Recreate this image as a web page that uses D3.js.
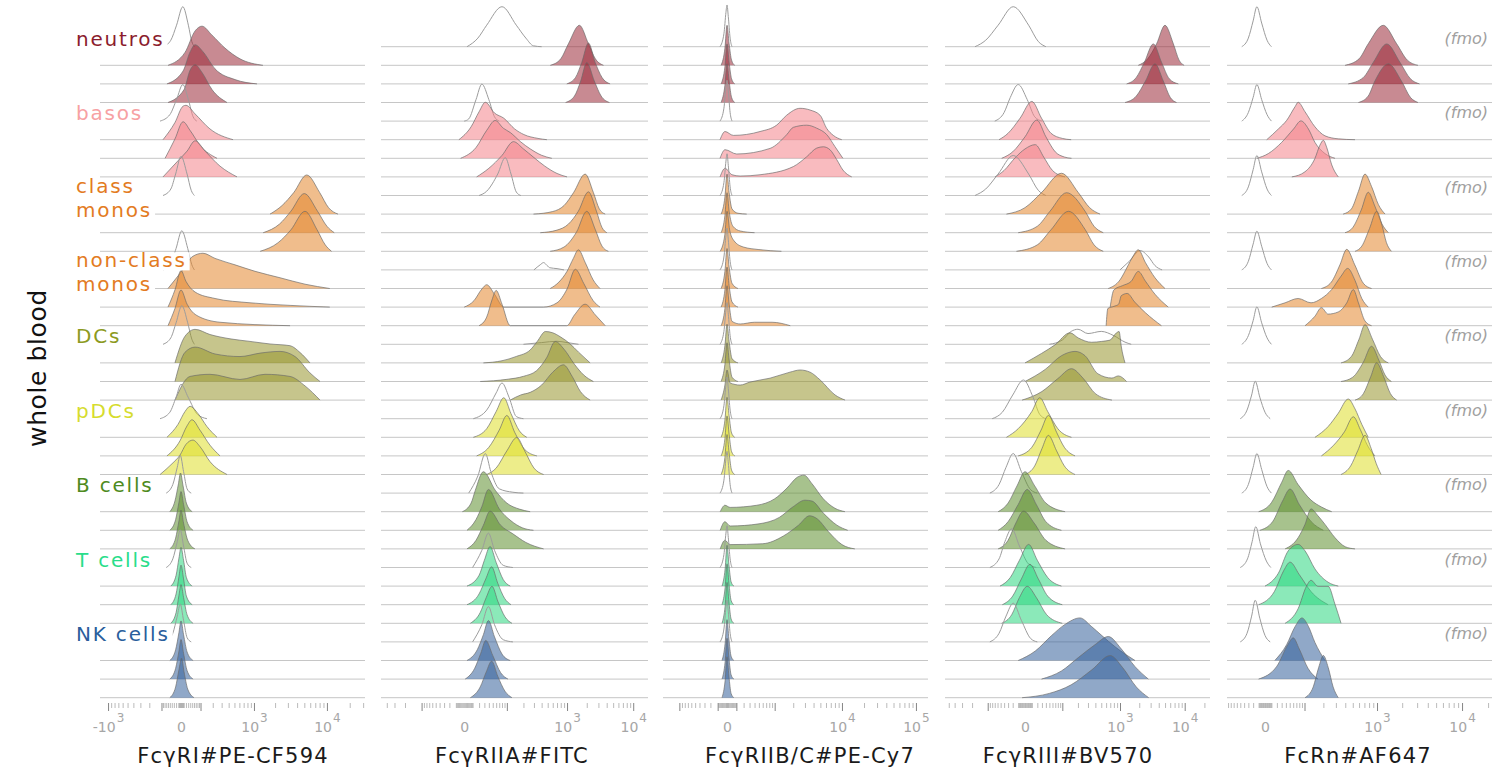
<!DOCTYPE html>
<html><head><meta charset="utf-8">
<script src="https://cdn.jsdelivr.net/npm/d3@7"></script>
<style>body{margin:0;background:#fff}svg{display:block}</style>
</head><body>
<svg id="chart" width="1511" height="776"></svg>
<script>
// ---------------- DATA ----------------
const cellTypes = ["neutros","basos","class monos","non-class monos","DCs","pDCs","B cells","T cells","NK cells"];
const cellLabelLines = [["neutros"],["basos"],["class","monos"],["non-class","monos"],["DCs"],["pDCs"],["B cells"],["T cells"],["NK cells"]];
const sampleRows = ["fmo","stain 1","stain 2","stain 3"];
const markers = ["FcγRI#PE-CF594","FcγRIIA#FITC","FcγRIIB/C#PE-Cy7","FcγRIII#BV570","FcRn#AF647"];
const tickValues = [[-1000,0,1000,10000],[0,1000,10000],[0,10000,100000],[0,1000,10000],[0,1000,10000]];
const tickLabels = [["-10^3","0","10^3","10^4"],["0","10^3","10^4"],["0","10^4","10^5"],["0","10^3","10^4"],["0","10^3","10^4"]];
const yTitle = "whole blood";
const fmoLabel = "(fmo)";

// density knots: [fluorescence value, relative density] per cell type x [fmo, stain1, stain2, stain3]
const fcgr1Curves = [
 [[[-90,0],[-45,0.15],[-18,0.5],[7,0.93],[31,0.5],[48,0.12],[62,0]],
  [[-60,0],[16,0.3],[66,0.8],[110,0.91],[193,0.7],[345,0.4],[614,0.15],[1350,0]],
  [[-66,0],[8,0.3],[40,0.75],[66,0.91],[117,0.75],[223,0.35],[511,0.1],[1109,0]],
  [[-60,0],[12,0.3],[39,0.75],[66,0.88],[110,0.7],[193,0.3],[375,0]]],
 [[[-110,0],[-50,0.15],[-18,0.5],[7,0.85],[31,0.5],[55,0.1],[76,0]],
  [[-90,0],[-25,0.4],[8,0.78],[20,0.8],[66,0.6],[174,0.25],[474,0]],
  [[-77,0],[-25,0.45],[8,0.85],[39,0.65],[97,0.3],[245,0]],
  [[-90,0],[-16,0.35],[25,0.6],[66,0.84],[133,0.6],[280,0.25],[550,0]]],
 [[[-90,0],[-45,0.15],[-22,0.5],[0,0.91],[25,0.5],[45,0.12],[62,0]],
  [[1700,0],[2500,0.2],[3600,0.5],[5390,0.91],[8020,0.5],[10500,0.15],[14000,0]],
  [[1360,0],[2300,0.2],[3300,0.5],[5000,0.91],[7500,0.5],[10000,0.15],[12500,0]],
  [[1230,0],[2200,0.2],[3300,0.5],[5100,0.93],[7400,0.5],[9500,0.15],[11500,0]]],
 [[[-90,0],[-45,0.15],[-20,0.5],[3,0.91],[28,0.5],[48,0.12],[62,0]],
  [[-60,0],[-4,0.35],[54,0.75],[117,0.82],[223,0.7],[511,0.55],[1036,0.4],[2340,0.25],[5110,0.1],[10900,0]],
  [[-60,0],[-25,0.4],[0,0.85],[20,0.6],[66,0.35],[223,0.2],[874,0.1],[3210,0.04],[10900,0]],
  [[-60,0],[-25,0.4],[0,0.83],[25,0.5],[71,0.25],[280,0.08],[3210,0]]],
 [[[-90,0],[-45,0.15],[-20,0.5],[3,0.9],[28,0.5],[48,0.12],[62,0]],
  [[-25,0],[16,0.62],[66,0.78],[174,0.66],[422,0.56],[874,0.5],[1700,0.44],[3210,0.4],[4390,0.24],[5950,0]],
  [[-25,0],[16,0.68],[66,0.8],[223,0.64],[614,0.58],[1230,0.66],[2340,0.7],[3750,0.58],[5950,0.2],[8100,0]],
  [[-25,0],[39,0.55],[174,0.6],[614,0.48],[1444,0.6],[3210,0.55],[5110,0.33],[8100,0]]],
 [[[-110,0],[-50,0.15],[-20,0.5],[0,0.8],[30,0.5],[80,0.1],[148,0]],
  [[-66,0],[-12,0.3],[16,0.6],[39,0.72],[84,0.55],[148,0.25],[245,0]],
  [[-66,0],[-4,0.35],[25,0.7],[49,0.84],[96,0.6],[174,0.25],[280,0]],
  [[-110,0],[-39,0.25],[-4,0.45],[20,0.7],[54,0.8],[96,0.65],[174,0.3],[375,0]]],
 [[[-70,0],[-35,0.2],[-15,0.6],[-3,0.88],[10,0.5],[25,0.1],[45,0]],
  [[-50,0],[-25,0.25],[-10,0.65],[-2,0.9],[8,0.6],[22,0.2],[50,0]],
  [[-50,0],[-22,0.25],[-8,0.65],[0,0.9],[10,0.6],[25,0.2],[55,0]],
  [[-50,0],[-22,0.25],[-8,0.65],[0,0.9],[10,0.6],[28,0.2],[65,0]]],
 [[[-70,0],[-35,0.2],[-15,0.6],[-3,0.88],[10,0.5],[25,0.1],[45,0]],
  [[-45,0],[-20,0.25],[-8,0.65],[0,0.9],[10,0.6],[22,0.2],[50,0]],
  [[-45,0],[-20,0.25],[-8,0.65],[0,0.92],[10,0.6],[22,0.2],[50,0]],
  [[-45,0],[-20,0.25],[-8,0.65],[0,0.9],[10,0.6],[25,0.2],[55,0]]],
 [[[-70,0],[-35,0.2],[-15,0.6],[-3,0.88],[10,0.5],[25,0.1],[45,0]],
  [[-50,0],[-22,0.25],[-8,0.65],[0,0.92],[10,0.6],[25,0.2],[55,0]],
  [[-50,0],[-22,0.25],[-8,0.65],[0,0.92],[10,0.6],[25,0.2],[55,0]],
  [[-50,0],[-22,0.25],[-8,0.65],[2,0.92],[12,0.6],[28,0.2],[60,0]]]
];

const fcgr2aCurves = [
 [[[3,0],[18,0.2],[35,0.5],[80,0.93],[150,0.5],[220,0.2],[295,0.02],[400,0]],
  [[550,0],[800,0.15],[1050,0.5],[1545,0.93],[2120,0.5],[2700,0.15],[3580,0]],
  [[990,0],[1350,0.15],[1680,0.5],[2120,0.95],[2680,0.5],[3400,0.15],[4500,0]],
  [[950,0],[1300,0.15],[1620,0.5],[2000,0.93],[2600,0.5],[3300,0.15],[4400,0]]],
 [[[0,0],[5,0.05],[15,0.5],[25,0.86],[40,0.5],[55,0.1],[70,0]],
  [[-6,0],[8,0.3],[20,0.65],[32,0.87],[55,0.62],[87,0.5],[140,0.25],[203,0.12],[350,0.03],[485,0]],
  [[-4,0],[15,0.25],[35,0.65],[57,0.88],[85,0.7],[116,0.6],[180,0.38],[260,0.22],[400,0.07],[580,0]],
  [[16,0],[40,0.2],[80,0.5],[133,0.82],[200,0.65],[300,0.45],[450,0.25],[700,0.08],[1000,0]]],
 [[[20,0],[35,0.1],[65,0.5],[93,0.88],[120,0.5],[150,0.08],[180,0]],
  [[295,0],[600,0.06],[900,0.2],[1260,0.5],[1890,0.93],[2520,0.5],[3100,0.12],[3800,0]],
  [[380,0],[700,0.06],[1050,0.2],[1490,0.5],[2120,0.95],[2800,0.5],[3400,0.12],[4020,0]],
  [[547,0],[900,0.1],[1400,0.45],[2000,0.93],[2700,0.5],[3400,0.12],[4250,0]]],
 [[[300,0],[380,0.12],[430,0.17],[490,0.1],[540,0.05],[700,0.03],[900,0]],
  [[547,0],[750,0.15],[1000,0.4],[1250,0.7],[1490,0.9],[1900,0.6],[2500,0.2],[3170,0]],
  [[0,0],[12,0.15],[25,0.42],[35,0.52],[55,0.3],[87,0],[430,0],[700,0.1],[1000,0.42],[1340,0.88],[1800,0.55],[2500,0.15],[3170,0]],
  [[20,0],[35,0.2],[48,0.6],[60,0.82],[80,0.5],[116,0],[990,0],[1300,0.25],[1890,0.5],[2700,0.25],[3800,0]]],
 [[[200,0],[400,0.04],[700,0.07],[1000,0.04],[1500,0]],
  [[28,0],[80,0.05],[150,0.15],[260,0.3],[340,0.5],[460,0.73],[600,0.7],[800,0.6],[1100,0.45],[1500,0.25],[2250,0]],
  [[22,0],[100,0.05],[200,0.12],[330,0.25],[480,0.55],[657,0.93],[900,0.75],[1300,0.4],[1800,0.15],[2520,0]],
  [[116,0],[180,0.12],[260,0.18],[400,0.35],[600,0.65],[880,0.82],[1200,0.55],[1600,0.2],[2250,0]]],
 [[[11,0],[35,0.2],[60,0.6],[80,0.83],[110,0.5],[150,0.05],[200,0]],
  [[11,0],[35,0.2],[60,0.6],[87,0.92],[120,0.55],[170,0.15],[228,0]],
  [[16,0],[40,0.2],[70,0.6],[100,0.94],[140,0.55],[210,0.15],[335,0]],
  [[35,0],[60,0.15],[100,0.55],[153,0.86],[210,0.55],[300,0.15],[430,0]]],
 [[[5,0],[18,0.4],[32,0.92],[45,0.5],[70,0.1],[130,0.02],[200,0]],
  [[-2,0],[8,0.2],[14,0.5],[28,0.93],[57,0.5],[100,0.2],[170,0.06],[260,0]],
  [[3,0],[15,0.25],[25,0.55],[39,0.95],[70,0.5],[120,0.22],[190,0.06],[295,0]],
  [[3,0],[15,0.2],[28,0.55],[43,0.88],[75,0.55],[130,0.35],[220,0.15],[430,0]]],
 [[[10,0],[25,0.4],[39,0.8],[55,0.4],[85,0.05],[130,0]],
  [[3,0],[20,0.25],[30,0.6],[43,0.92],[60,0.55],[85,0.15],[116,0]],
  [[3,0],[20,0.25],[33,0.6],[47,0.88],[65,0.5],[90,0.15],[120,0]],
  [[7,0],[22,0.25],[34,0.6],[48,0.86],[66,0.5],[92,0.15],[125,0]]],
 [[[10,0],[25,0.4],[39,0.82],[55,0.4],[85,0.05],[130,0]],
  [[3,0],[17,0.25],[28,0.6],[39,0.93],[55,0.55],[80,0.15],[116,0]],
  [[1,0],[13,0.25],[23,0.6],[33,0.9],[50,0.55],[75,0.15],[105,0]],
  [[7,0],[22,0.25],[34,0.6],[47,0.85],[65,0.5],[92,0.15],[125,0]]]
];

const fcgr2bCurves = [
 [[[-72,0],[-30,0.3],[-10,0.8],[0,0.97],[12,0.7],[30,0.2],[50,0]],
  [[-60,0],[-20,0.4],[0,0.93],[20,0.5],[45,0.12],[80,0]],
  [[-60,0],[-20,0.4],[0,0.93],[20,0.5],[45,0.12],[80,0]],
  [[-60,0],[-20,0.4],[0,0.9],[20,0.5],[45,0.12],[80,0]]],
 [[[-72,0],[-30,0.3],[-10,0.8],[0,0.95],[12,0.7],[30,0.2],[50,0]],
  [[-72,0],[-19,0.19],[64,0.1],[528,0.19],[1084,0.34],[1583,0.57],[2535,0.73],[3557,0.69],[4950,0.57],[6150,0.26],[7600,0.1],[9930,0]],
  [[-72,0],[-19,0.2],[104,0.1],[827,0.23],[1583,0.55],[2007,0.72],[3190,0.77],[4440,0.7],[6150,0.55],[8020,0.27],[10300,0]],
  [[-72,0],[-19,0.2],[50,0.05],[149,0.02],[528,0.05],[2007,0.24],[3190,0.47],[4440,0.67],[5510,0.7],[6840,0.63],[8480,0.4],[10300,0.16],[13600,0]]],
 [[[-72,0],[-30,0.3],[-10,0.8],[0,0.97],[12,0.7],[30,0.2],[50,0]],
  [[-60,0],[-20,0.4],[0,0.93],[20,0.5],[50,0.12],[120,0.02],[250,0]],
  [[-60,0],[-20,0.4],[0,0.93],[20,0.5],[60,0.15],[150,0.04],[400,0]],
  [[-70,0],[-20,0.4],[0,0.93],[25,0.5],[70,0.25],[195,0.1],[500,0.04],[1300,0]]],
 [[[-72,0],[-30,0.3],[-10,0.8],[0,0.97],[12,0.7],[30,0.2],[50,0]],
  [[-60,0],[-20,0.4],[0,0.93],[20,0.5],[50,0.12],[120,0]],
  [[-60,0],[-20,0.4],[0,0.93],[20,0.5],[50,0.12],[120,0]],
  [[-60,0],[-20,0.4],[0,0.93],[20,0.5],[50,0.1],[150,0.04],[400,0.08],[900,0.08],[1800,0]]],
 [[[-72,0],[-30,0.3],[-10,0.8],[0,0.97],[12,0.7],[30,0.2],[50,0]],
  [[-60,0],[-20,0.4],[0,0.9],[20,0.5],[50,0.1],[120,0]],
  [[-60,0],[-20,0.4],[0,0.9],[20,0.5],[50,0.1],[120,0]],
  [[-60,0],[-20,0.35],[0,0.7],[29,0.4],[149,0.35],[309,0.42],[827,0.51],[1784,0.65],[2535,0.7],[3557,0.65],[4950,0.47],[8020,0.12],[11030,0]]],
 [[[-72,0],[-30,0.3],[-10,0.8],[0,0.97],[12,0.7],[30,0.2],[50,0]],
  [[-60,0],[-20,0.4],[0,0.93],[20,0.5],[45,0.1],[80,0]],
  [[-60,0],[-20,0.4],[0,0.93],[20,0.5],[45,0.1],[80,0]],
  [[-60,0],[-20,0.4],[0,0.93],[20,0.5],[45,0.1],[80,0]]],
 [[[-72,0],[-30,0.3],[-10,0.8],[0,0.97],[12,0.7],[30,0.2],[50,0]],
  [[-70,0],[-20,0.15],[30,0.1],[450,0.15],[1000,0.3],[1600,0.55],[2300,0.8],[2900,0.85],[3800,0.65],[5500,0.3],[8000,0.08],[11000,0]],
  [[-70,0],[-20,0.2],[30,0.1],[500,0.15],[1200,0.3],[2000,0.55],[3000,0.7],[3800,0.68],[5500,0.4],[8500,0.12],[12000,0]],
  [[-70,0],[-20,0.2],[30,0.1],[600,0.12],[1400,0.3],[2400,0.55],[3500,0.77],[4500,0.7],[6500,0.4],[10000,0.1],[15000,0]]],
 [[[-72,0],[-30,0.3],[-10,0.8],[0,0.97],[12,0.7],[30,0.2],[50,0]],
  [[-50,0],[-18,0.4],[0,0.95],[18,0.5],[40,0.1],[70,0]],
  [[-50,0],[-18,0.4],[0,0.95],[18,0.5],[40,0.1],[70,0]],
  [[-50,0],[-18,0.4],[0,0.95],[18,0.5],[40,0.1],[70,0]]],
 [[[-72,0],[-30,0.3],[-10,0.8],[0,0.97],[12,0.7],[30,0.2],[50,0]],
  [[-50,0],[-18,0.4],[0,0.95],[18,0.5],[40,0.1],[70,0]],
  [[-50,0],[-18,0.4],[0,0.95],[18,0.5],[40,0.1],[70,0]],
  [[-50,0],[-18,0.4],[0,0.95],[18,0.5],[40,0.1],[70,0]]]
];

const fcgr3Curves = [
 [[[-177,0],[-110,0.15],[-58,0.5],[-19,0.93],[5,0.5],[22,0.12],[40,0]],
  [[1930,0],[2700,0.15],[3710,0.5],[4990,0.93],[6700,0.5],[8200,0.12],[9800,0]],
  [[1270,0],[1800,0.15],[2400,0.5],[3300,0.93],[4420,0.5],[5800,0.12],[8000,0]],
  [[1200,0],[1800,0.15],[2500,0.5],[3500,0.9],[4700,0.5],[6000,0.12],[7500,0]]],
 [[[-70,0],[-40,0.2],[-25,0.55],[-10,0.85],[3,0.5],[15,0.1],[30,0]],
  [[-55,0],[-30,0.15],[-7,0.5],[10,0.89],[29,0.5],[55,0.15],[100,0.03],[150,0]],
  [[-47,0],[-20,0.15],[0,0.5],[19,0.89],[40,0.5],[70,0.15],[110,0.03],[152,0]],
  [[-69,0],[-40,0.15],[-15,0.45],[0,0.65],[16,0.75],[35,0.45],[60,0.15],[114,0]]],
 [[[-177,0],[-110,0.15],[-58,0.5],[-19,0.93],[5,0.5],[22,0.12],[40,0]],
  [[-34,0],[0,0.15],[29,0.5],[96,0.95],[203,0.5],[320,0.15],[478,0]],
  [[-10,0],[20,0.15],[52,0.5],[122,0.93],[267,0.5],[380,0.15],[540,0]],
  [[-13,0],[20,0.15],[55,0.5],[133,0.93],[270,0.5],[380,0.15],[540,0]]],
 [[[1000,0],[1400,0.2],[2060,0.45],[2800,0.3],[3500,0.1],[4500,0]],
  [[650,0],[1000,0.2],[1300,0.5],[1600,0.75],[1930,0.9],[2500,0.6],[3500,0.25],[4990,0]],
  [[697,0],[800,0.4],[1100,0.5],[1500,0.6],[1930,0.83],[2500,0.6],[3500,0.3],[5600,0]],
  [[600,0],[640,0.4],[800,0.45],[950,0.5],[1050,0.7],[1300,0.75],[1700,0.55],[2500,0.3],[4400,0]]],
 [[[50,0],[100,0.1],[150,0.3],[200,0.35],[300,0.25],[500,0.3],[800,0.2],[1200,0.05],[1500,0]],
  [[0,0],[29,0.22],[69,0.42],[142,0.7],[203,0.58],[345,0.48],[511,0.5],[693,0.53],[880,0.7],[967,0.73],[1050,0.37],[1199,0]],
  [[0,0],[38,0.28],[96,0.6],[177,0.7],[267,0.6],[440,0.18],[745,0.08],[940,0.13],[1270,0]],
  [[-4,0],[30,0.2],[80,0.5],[152,0.73],[250,0.5],[400,0.15],[745,0]]],
 [[[-80,0],[-45,0.15],[-20,0.55],[-2,0.9],[12,0.5],[25,0.1],[40,0]],
  [[-34,0],[-10,0.2],[10,0.6],[25,0.92],[45,0.6],[80,0.2],[152,0]],
  [[-10,0],[10,0.2],[28,0.6],[47,0.94],[75,0.55],[110,0.2],[177,0]],
  [[0,0],[15,0.2],[30,0.6],[47,0.91],[75,0.55],[110,0.2],[177,0]]],
 [[[-90,0],[-55,0.2],[-35,0.6],[-19,0.92],[-5,0.5],[8,0.08],[20,0]],
  [[-58,0],[-30,0.2],[-12,0.6],[0,0.93],[15,0.6],[40,0.2],[114,0]],
  [[-58,0],[-30,0.2],[-10,0.6],[3,0.95],[18,0.6],[40,0.2],[96,0]],
  [[-58,0],[-30,0.2],[-14,0.6],[-2,0.88],[14,0.6],[40,0.2],[114,0]]],
 [[[-90,0],[-55,0.2],[-38,0.6],[-22,0.9],[-8,0.5],[5,0.08],[18,0]],
  [[-52,0],[-25,0.2],[-8,0.6],[5,0.97],[20,0.6],[45,0.2],[96,0]],
  [[-45,0],[-20,0.2],[-5,0.6],[7,0.94],[22,0.6],[45,0.2],[100,0]],
  [[-47,0],[-22,0.2],[-8,0.6],[3,0.86],[18,0.6],[42,0.2],[100,0]]],
 [[[-90,0],[-55,0.2],[-35,0.6],[-19,0.9],[-5,0.5],[8,0.08],[20,0]],
  [[-10,0],[16,0.22],[57,0.58],[114,0.84],[217,0.99],[345,0.79],[511,0.58],[833,0.32],[1720,0]],
  [[29,0],[96,0.19],[203,0.5],[394,0.8],[650,0.99],[1050,0.7],[1720,0.29],[2770,0]],
  [[-4,0],[50,0.1],[150,0.3],[350,0.65],[697,0.98],[1100,0.7],[1800,0.25],[2800,0]]]
];

const fcrnCurves = [
 [[[-46,0],[-30,0.2],[-20,0.6],[-13,0.93],[-5,0.55],[3,0.15],[10,0]],
  [[397,0],[600,0.15],[781,0.5],[1190,0.93],[1720,0.5],[2300,0.12],[3070,0]],
  [[437,0],[680,0.15],[900,0.5],[1310,0.93],[1885,0.5],[2500,0.12],[3200,0]],
  [[590,0],[780,0.15],[943,0.5],[1370,0.9],[1960,0.5],[2500,0.12],[3070,0]]],
 [[[-46,0],[-30,0.2],[-20,0.55],[-13,0.85],[-5,0.5],[3,0.15],[10,0]],
  [[2.5,0],[23,0.25],[42,0.45],[66,0.77],[76,0.87],[102,0.65],[149,0.3],[211,0.09],[323,0.02],[534,0]],
  [[-13,0],[5,0.11],[30,0.37],[61,0.68],[86,0.87],[117,0.68],[149,0.37],[211,0.11],[292,0]],
  [[56,0],[102,0.12],[149,0.43],[178,0.74],[200,0.85],[223,0.69],[263,0.28],[323,0]]],
 [[[-46,0],[-30,0.2],[-20,0.6],[-13,0.93],[-5,0.55],[3,0.15],[10,0]],
  [[375,0],[480,0.12],[590,0.53],[712,0.93],[858,0.64],[1040,0.22],[1250,0]],
  [[397,0],[500,0.12],[640,0.53],[781,0.94],[940,0.62],[1150,0.2],[1370,0]],
  [[534,0],[650,0.12],[810,0.53],[990,0.93],[1150,0.6],[1300,0.2],[1490,0]]],
 [[[-46,0],[-30,0.2],[-20,0.6],[-13,0.9],[-5,0.55],[3,0.15],[10,0]],
  [[187,0],[260,0.15],[340,0.55],[418,0.91],[530,0.55],[680,0.12],[858,0]],
  [[10.5,0],[38,0.1],[76,0.2],[129,0.1],[187,0.2],[263,0.41],[352,0.72],[430,0.9],[534,0.62],[650,0.2],[781,0]],
  [[102,0],[149,0.22],[187,0.42],[234,0.27],[323,0.32],[418,0.53],[508,0.84],[590,0.53],[712,0.11],[858,0]]],
 [[[-46,0],[-30,0.2],[-20,0.55],[-13,0.87],[-5,0.5],[3,0.15],[10,0]],
  [[352,0],[480,0.15],[600,0.55],[712,0.89],[880,0.55],[1100,0.15],[1370,0]],
  [[352,0],[500,0.1],[680,0.45],[858,0.82],[1050,0.5],[1250,0.15],[1490,0]],
  [[534,0],[680,0.15],[840,0.55],[990,0.87],[1200,0.55],[1450,0.15],[1720,0]]],
 [[[-50,0],[-33,0.2],[-23,0.55],[-16,0.87],[-8,0.5],[0,0.15],[8,0]],
  [[149,0],[234,0.25],[323,0.56],[437,0.89],[534,0.66],[650,0.3],[781,0]],
  [[187,0],[280,0.25],[390,0.56],[508,0.91],[620,0.62],[760,0.25],[943,0]],
  [[352,0],[470,0.2],[580,0.56],[712,0.91],[850,0.6],[980,0.25],[1120,0]]],
 [[[-46,0],[-30,0.2],[-20,0.6],[-13,0.92],[-5,0.55],[3,0.15],[10,0]],
  [[-10,0],[10.5,0.22],[30,0.68],[46,0.96],[76,0.63],[129,0.27],[187,0.11],[263,0]],
  [[-8,0],[12,0.2],[32,0.68],[51,0.96],[80,0.6],[130,0.2],[200,0]],
  [[38,0],[76,0.26],[102,0.57],[129,0.93],[166,0.77],[211,0.57],[292,0.26],[400,0.05],[534,0]]],
 [[[-50,0],[-32,0.2],[-22,0.6],[-15,0.95],[-7,0.55],[2,0.15],[9,0]],
  [[0,0],[23,0.3],[46,0.82],[76,0.97],[102,0.82],[149,0.4],[234,0.09],[323,0]],
  [[-10,0],[15,0.3],[35,0.8],[51,0.99],[80,0.7],[130,0.3],[234,0]],
  [[38,0],[76,0.34],[108,0.86],[129,1.0],[166,0.86],[234,0.86],[292,0.44],[352,0]]],
 [[[-50,0],[-33,0.2],[-23,0.6],[-16,0.97],[-8,0.55],[0,0.15],[8,0]],
  [[16,0],[42,0.37],[66,0.79],[90,0.99],[117,0.79],[149,0.42],[211,0]],
  [[-10,0],[20,0.3],[45,0.8],[60,0.96],[80,0.7],[115,0.25],[166,0]],
  [[102,0],[140,0.25],[170,0.7],[200,0.98],[235,0.7],[275,0.25],[323,0]]]
];

// ---------------- STYLE / LAYOUT ----------------
const labelColors = ["#8b1c2d","#f7a1a3","#e37b22","#e37b22","#8c9a22","#d6dc2e","#4e8a20","#29dd8a","#2a5e9c"];
const fillColors  = ["#9a2a38","#f4838b","#e3862e","#e3862e","#98962e","#dede2a","#5f902f","#2cd77f","#34619b"];
const FONT = "'DejaVu Sans', Verdana, sans-serif";

const panels = [
  {curves: fcgr1Curves,  constant: 125, domain: [-1309, 31750],  range: [100, 365],  fmoBaseline: false, titleX: 233},
  {curves: fcgr2aCurves, constant: 30,  domain: [-495, 16650],   range: [381, 648],  fmoBaseline: true,  titleX: 512},
  {curves: fcgr2bCurves, constant: 300, domain: [-1850, 145000], range: [663, 928],  fmoBaseline: true,  titleX: 810},
  {curves: fcgr3Curves,  constant: 37,  domain: [-576, 24350],   range: [945, 1210], fmoBaseline: true,  titleX: 1068},
  {curves: fcrnCurves,   constant: 54,  domain: [-94, 22200],    range: [1227, 1492],fmoBaseline: false, titleX: 1358}
];

const svg = d3.select("#chart");
const nRows = cellTypes.length * sampleRows.length;
const rowY = d3.scaleLinear().domain([0, nRows - 1]).range([46.7, 697.7]);
const hScale = d3.scaleLinear().domain([0, 1]).range([0, 43]);

panels.forEach((p, pi) => {
  const x = d3.scaleSymlog().constant(p.constant).domain(p.domain).range(p.range);
  const g = svg.append("g");
  for (let i = 0; i < nRows; i++) {
    if (i % 4 === 0 && !p.fmoBaseline) continue;
    g.append("line").attr("x1", p.range[0]).attr("x2", p.range[1])
      .attr("y1", rowY(i)).attr("y2", rowY(i))
      .attr("stroke", "#c6c6c6").attr("stroke-width", 1);
  }
  p.curves.forEach((grp, gi) => {
    grp.forEach((knots, r) => {
      const base = rowY(gi * 4 + r);
      const line = d3.line().x(d => x(d[0])).y(d => base - hScale(d[1])).curve(d3.curveMonotoneX);
      if (r === 0) {
        g.append("path").attr("d", line(knots)).attr("fill", "none")
          .attr("stroke", "#9c9c9c").attr("stroke-width", 1);
      } else {
        const area = d3.area().x(d => x(d[0])).y0(base).y1(d => base - hScale(d[1])).curve(d3.curveMonotoneX);
        g.append("path").attr("d", area(knots)).attr("fill", fillColors[gi]).attr("fill-opacity", 0.55);
        g.append("path").attr("d", line(knots)).attr("fill", "none")
          .attr("stroke", "#6a6a6a").attr("stroke-opacity", 0.75).attr("stroke-width", 0.9);
      }
    });
  });

  const rug = [0];
  for (let k = 0; k <= 5; k++) for (let m = 1; m <= 9; m++) {
    const v = m * Math.pow(10, k);
    if (v <= p.domain[1]) rug.push(v);
    if (-v >= p.domain[0]) rug.push(-v);
  }
  const isMajor = v => v !== 0 && Math.abs(v) >= 100 && Math.abs(Math.log10(Math.abs(v)) % 1) < 1e-9;
  const gr = g.append("g").attr("transform", "translate(0,703)")
    .call(d3.axisBottom(x).tickValues(rug).tickSize(6).tickFormat(""));
  gr.select(".domain").remove();
  gr.selectAll(".tick line")
    .attr("stroke", d => isMajor(d) ? "#777" : "#b3b3b3")
    .attr("y2", d => isMajor(d) ? 8 : 5)
    .attr("stroke-width", 0.9);

  const labs = tickLabels[pi];
  const gl = g.append("g").attr("transform", "translate(0,732)")
    .call(d3.axisBottom(x).tickValues(tickValues[pi]).tickSize(0).tickFormat((d, i) => labs[i]));
  gl.select(".domain").remove();
  gl.attr("font-family", FONT).attr("font-size", 14);
  gl.selectAll(".tick text").each(function(d, i) {
    const t = d3.select(this);
    const parts = labs[i].split("^");
    t.text(null).attr("y", 0).attr("dy", null).attr("fill", "#a6a6a6");
    t.append("tspan").text(parts[0]);
    if (parts[1]) t.append("tspan").attr("dy", -10).attr("dx", 1).attr("font-size", 12).text(parts[1]);
  });

  svg.append("text").attr("x", p.titleX).attr("y", 763).attr("text-anchor", "middle")
    .attr("font-family", FONT).attr("font-size", 21).attr("letter-spacing", 1.2)
    .attr("fill", "#1a1a1a").text(markers[pi]);
});

// group labels (white backing) and fmo tags
cellLabelLines.forEach((lines, gi) => {
  lines.forEach((ln, j) => {
    let y;
    if (lines.length === 1) y = rowY(gi * 4) - 1;
    else y = j === 0 ? rowY(gi * 4) - 2.5 : rowY(gi * 4 + 1) + 2.4;
    const t = svg.append("text").attr("x", 76).attr("y", y)
      .attr("font-family", FONT).attr("font-size", 20).attr("letter-spacing", 1.8)
      .attr("fill", labelColors[gi]).text(ln);
    const bb = t.node().getBBox();
    svg.insert("rect", () => t.node()).attr("x", bb.x - 1).attr("y", bb.y + 4)
      .attr("width", bb.width + 4).attr("height", bb.height - 6).attr("fill", "#fff");
  });
  svg.append("text").attr("x", 1488).attr("y", rowY(gi * 4) - 3).attr("text-anchor", "end")
    .attr("font-family", FONT).attr("font-size", 16).attr("font-style", "italic")
    .attr("fill", "#a0a0a0").text(fmoLabel);
});

svg.append("text").attr("transform", "translate(46,368) rotate(-90)").attr("text-anchor", "middle")
  .attr("font-family", FONT).attr("font-size", 25).attr("letter-spacing", 0.6)
  .attr("fill", "#111").text(yTitle);
</script>
</body></html>
